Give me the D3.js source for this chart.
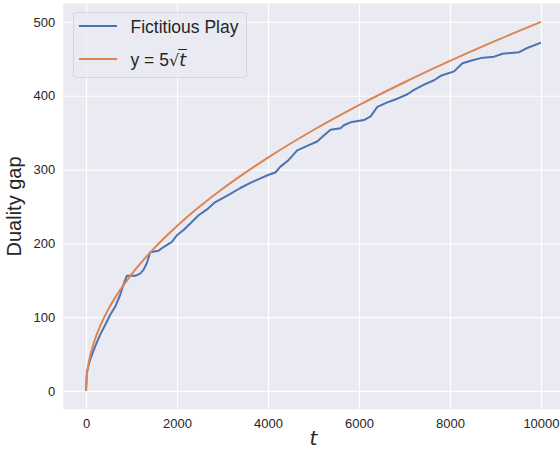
<!DOCTYPE html>
<html>
<head>
<meta charset="utf-8">
<script src="https://cdn.jsdelivr.net/npm/d3@7"></script>
<style>
  body { margin: 0; background: #fff; }
  text { font-family: "Liberation Sans", Arial, sans-serif; fill: #262626; }
</style>
</head>
<body>
<div id="graph"></div>
<script>
// Fictitious Play duality gap
const fpT = [0, 20, 88, 198, 308, 418, 529, 639, 749, 822, 896, 1079, 1189, 1262, 1336, 1410,
  1593, 1703, 1887, 1998, 2143, 2291, 2474, 2658, 2841, 3025, 3172, 3392, 3612, 3833, 4016,
  4163, 4273, 4456, 4641, 4861, 5081, 5228, 5374, 5595, 5668, 5815, 6108, 6256, 6403, 6623,
  6843, 7064, 7210, 7430, 7650, 7797, 8090, 8275, 8495, 8678, 8971, 9156, 9522, 9670, 10000];
const fpGap = [0, 26, 42, 60, 76, 89, 103, 114, 130, 144, 156, 156, 159, 164, 173, 188,
  190, 195, 202, 211, 218, 227, 238, 246, 256, 262, 267, 275, 282, 288, 293,
  296, 304, 313, 326, 332, 338, 346, 354, 356, 360, 364, 367, 372, 385, 391,
  396, 402, 408, 415, 421, 427, 433, 444, 448, 451, 453, 457, 459, 464, 472];

// y = 5 sqrt(t) curve
const sqT = [0, 1, 2, 5, 10, 25, 50, 100, 200, 300, 500, 750, 1000, 1500, 2000, 3000,
  4000, 5000, 6000, 7000, 8000, 9000, 10000];
const sqGap = [0, 5, 7.1, 11.2, 15.8, 25, 35.4, 50, 70.7, 86.6, 111.8, 136.9, 158.1, 193.6,
  223.6, 273.9, 316.2, 353.6, 387.3, 418.3, 447.2, 474.3, 500];

const xTicks = [0, 2000, 4000, 6000, 8000, 10000];
const yTicks = [0, 100, 200, 300, 400, 500];

const width = 560;
const height = 451;
const plot = { left: 63.3, right: 563.7, top: 3.5, bottom: 409.4 };

const blue = "#4c72b0";
const orange = "#dd8452";
const bg = "#eaeaf2";

let svg = d3.select('#graph')
  .append('svg')
  .attr('width', width)
  .attr('height', height);

let xScale = d3.scaleLinear()
  .domain([-500, 10500])
  .range([plot.left, plot.right]);

let yScale = d3.scaleLinear()
  .domain([-25, 525])
  .range([plot.bottom, plot.top]);

svg.append('defs').append('clipPath')
  .attr('id', 'clip')
  .append('rect')
  .attr('x', plot.left)
  .attr('y', plot.top)
  .attr('width', plot.right - plot.left)
  .attr('height', plot.bottom - plot.top);

// background
svg.append('rect')
  .attr('x', plot.left)
  .attr('y', plot.top)
  .attr('width', plot.right - plot.left)
  .attr('height', plot.bottom - plot.top)
  .attr('fill', bg);

// x axis with grid
let xAxis = d3.axisBottom(xScale)
  .tickValues(xTicks)
  .tickSize(-(plot.bottom - plot.top))
  .tickPadding(9)
  .tickFormat(d3.format('d'));
let gx = svg.append('g')
  .attr('transform', `translate(0, ${plot.bottom})`)
  .call(xAxis);
gx.select('.domain').remove();
gx.selectAll('line').attr('stroke', '#fff').attr('stroke-width', 1.2);
gx.selectAll('text').style('font-size', '13px').attr('fill', '#262626');

// y axis with grid
let yAxis = d3.axisLeft(yScale)
  .tickValues(yTicks)
  .tickSize(-(plot.right - plot.left))
  .tickPadding(8);
let gy = svg.append('g')
  .attr('transform', `translate(${plot.left}, 0)`)
  .call(yAxis);
gy.select('.domain').remove();
gy.selectAll('line').attr('stroke', '#fff').attr('stroke-width', 1.2);
gy.selectAll('text').style('font-size', '13px').attr('fill', '#262626');

// lines
let lines = svg.append('g').attr('clip-path', 'url(#clip)');

lines.append('path')
  .datum(fpT.map((t, i) => [t, fpGap[i]]))
  .attr('fill', 'none')
  .attr('stroke', blue)
  .attr('stroke-width', 2)
  .attr('stroke-linejoin', 'round')
  .attr('d', d3.line()
    .x(d => xScale(d[0]))
    .y(d => yScale(d[1])));

lines.append('path')
  .datum(sqT.map((t, i) => [t, sqGap[i]]))
  .attr('fill', 'none')
  .attr('stroke', orange)
  .attr('stroke-width', 2)
  .attr('d', d3.line()
    .curve(d3.curveMonotoneX)
    .x(d => xScale(d[0]))
    .y(d => yScale(d[1])));

// axis titles
svg.append('text')
  .attr('x', (plot.left + plot.right) / 2)
  .attr('y', 445)
  .attr('text-anchor', 'middle')
  .style('font-family', '"DejaVu Sans", sans-serif')
  .style('font-style', 'italic')
  .style('font-size', '20px')
  .text('t');

svg.append('text')
  .attr('transform', `translate(21, ${(plot.top + plot.bottom) / 2}) rotate(-90)`)
  .attr('text-anchor', 'middle')
  .style('font-size', '20px')
  .text('Duality gap');

// legend
let legend = svg.append('g').attr('class', 'legend');
legend.append('rect')
  .attr('x', 73.5)
  .attr('y', 12.5)
  .attr('width', 173)
  .attr('height', 65)
  .attr('rx', 3)
  .attr('fill', 'rgba(234,234,242,0.8)')
  .attr('stroke', '#d4d4dc')
  .attr('stroke-width', 1);

legend.append('line')
  .attr('x1', 79).attr('x2', 117)
  .attr('y1', 26).attr('y2', 26)
  .attr('stroke', blue).attr('stroke-width', 2);
legend.append('text')
  .attr('x', 130.5)
  .attr('y', 32.5)
  .style('font-size', '17.5px')
  .text('Fictitious Play');

legend.append('line')
  .attr('x1', 79).attr('x2', 117)
  .attr('y1', 59).attr('y2', 59)
  .attr('stroke', orange).attr('stroke-width', 2);
let lab2 = legend.append('text')
  .attr('x', 130.5)
  .attr('y', 65.5)
  .style('font-size', '17.5px');
lab2.append('tspan').text('y = 5');
lab2.append('tspan')
  .style('font-family', '"DejaVu Sans", sans-serif')
  .style('font-size', '16px')
  .text('\u221A');
lab2.append('tspan')
  .style('font-family', '"DejaVu Sans", sans-serif')
  .style('font-style', 'italic')
  .text('t');
// overline of the root
let tNode = lab2.node();
let n = tNode.getNumberOfChars();
let rootEnd = tNode.getEndPositionOfChar(n - 2).x;
let tEnd = tNode.getEndPositionOfChar(n - 1).x;
legend.append('line')
  .attr('x1', rootEnd - 1).attr('x2', tEnd + 1)
  .attr('y1', 49.5).attr('y2', 49.5)
  .attr('stroke', '#262626').attr('stroke-width', 1);
</script>
</body>
</html>
